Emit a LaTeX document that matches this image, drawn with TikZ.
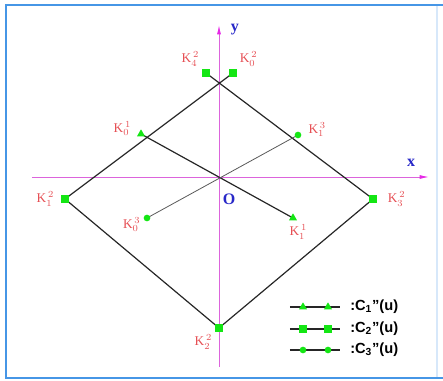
\documentclass[tikz,border=0pt]{standalone}
\usepackage{fontspec}
\setmainfont{Liberation Serif}
\setsansfont{Liberation Sans}
\usepackage{tikz}
\usetikzlibrary{shapes.geometric, arrows.meta, positioning}
\definecolor{mygreen}{RGB}{20,230,20}
\definecolor{myred}{RGB}{230,80,85}
\definecolor{mymagenta}{RGB}{230,40,230}
\definecolor{axmagenta}{RGB}{220,100,220}
\definecolor{myblue}{RGB}{40,40,200}
\definecolor{frameblue}{RGB}{70,150,230}
\definecolor{framelight}{RGB}{215,232,250}
\tikzset{
  sqmark/.style={rectangle, fill=mygreen, minimum size=5.5pt, inner sep=0pt},
  dotmark/.style={circle, fill=mygreen, minimum size=5pt, inner sep=0pt},
  trimark/.style={regular polygon, regular polygon sides=3, fill=mygreen,
    minimum size=7pt, inner sep=0pt},
  klabel/.style={text=myred, font=\normalsize, inner sep=1pt},
  axlabel/.style={text=myblue, font=\large\bfseries},
  axis/.style={color=axmagenta, line width=0.7pt,
    -{Latex[length=7pt,width=3pt,color=mymagenta]}},
  curve/.style={line width=0.9pt, color=black!85},
  thincurve/.style={line width=0.6pt, color=black!65},
  legtext/.style={font=\sffamily\bfseries\fontsize{11}{13}\selectfont,
    anchor=west, inner sep=0pt}
}

\begin{document}
\begin{tikzpicture}[x=0.75pt, y=0.75pt]
  \useasboundingbox (-219,177) rectangle (224,-204);
  % ── frame ────────────────────────────────────────────────────────────────
  \draw[framelight, line width=0.8pt] (218,172) -- (218,-201);
  \draw[frameblue, line width=1.5pt] (224,172) -- (-213,172) -- (-213,-201) -- (224,-201);
  % ── axes ─────────────────────────────────────────────────────────────────
  \coordinate (xl) at (-187,0);
  \coordinate (xr) at (210,0);
  \coordinate (yb) at (0,-190);
  \coordinate (yt) at (0,152);
  \draw[axis] (xl) -- (xr);
  \draw[axis] (yb) -- (yt);
  \node[axlabel] (xlab) at (192,14) {x};
  \node[axlabel] (ylab) at (16,147) {y};
  \node[axlabel] (olab) at (10,-22) {O};
  % ── control points ───────────────────────────────────────────────────────
  \coordinate (p42) at (-13,104);
  \coordinate (p02) at (14,104);
  \coordinate (p12) at (-154,-22);
  \coordinate (p32) at (154,-22);
  \coordinate (p22) at (0,-151);
  \coordinate (p01) at (-78,43);
  \coordinate (p11) at (74,-41);
  \coordinate (p03) at (-72,-41);
  \coordinate (p13) at (79,42);
  % ── curves ───────────────────────────────────────────────────────────────
  \draw[curve] (p42) -- (p32) -- (p22) -- (p12) -- (p02);
  \draw[curve] (p01) -- (p11);
  \draw[thincurve] (p03) -- (p13);
  % ── markers ──────────────────────────────────────────────────────────────
  \node[sqmark] (k42) at (p42) {};
  \node[sqmark] (k02) at (p02) {};
  \node[sqmark] (k12) at (p12) {};
  \node[sqmark] (k32) at (p32) {};
  \node[sqmark] (k22) at (p22) {};
  \node[trimark] (k01) at (p01) {};
  \node[trimark] (k11) at (p11) {};
  \node[dotmark] (k03) at (p03) {};
  \node[dotmark] (k13) at (p13) {};
  % ── point labels ─────────────────────────────────────────────────────────
  \node[klabel, above left=1pt and 1pt of k42] (l42) {K$_4^{\,2}$};
  \node[klabel, above right=1pt and 1pt of k02] (l02) {K$_0^{\,2}$};
  \node[klabel, left=4pt of k01, yshift=4pt] (l01) {K$_0^{\,1}$};
  \node[klabel, right=4pt of k13, yshift=4pt] (l13) {K$_1^{\,3}$};
  \node[klabel, left=4pt of k12] (l12) {K$_1^{\,2}$};
  \node[klabel, right=7pt of k32] (l32) {K$_3^{\,2}$};
  \node[klabel, left=1pt of k03, yshift=-5pt] (l03) {K$_0^{\,3}$};
  \node[klabel, below=2pt of k11, xshift=4pt] (l11) {K$_1^{\,1}$};
  \node[klabel, below left=1pt and 1pt of k22] (l22) {K$_2^{\,2}$};
  % ── legend ───────────────────────────────────────────────────────────────
  \foreach \i/\yy/\mk in {1/-130/trimark, 2/-152/sqmark, 3/-173/dotmark} {
    \coordinate (lga\i) at (71,\yy);
    \coordinate (lgb\i) at (121,\yy);
    \draw[curve] (lga\i) -- (lgb\i);
    \node[\mk] (lgm\i a) at (84,\yy) {};
    \node[\mk] (lgm\i b) at (109,\yy) {};
    \node[legtext] (lgt\i) at (131,\yy) {:C\textsubscript{\i}"(u)};
  }
\end{tikzpicture}
\end{document}
